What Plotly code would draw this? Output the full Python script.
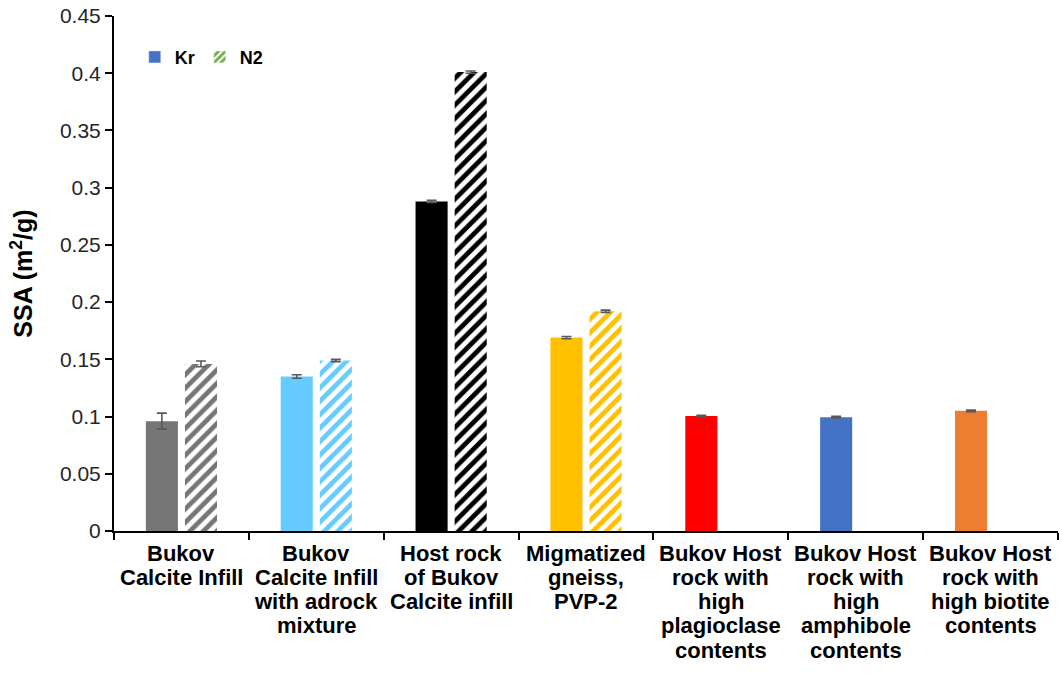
import plotly.graph_objects as go

categories = [
    "Bukov<br>Calcite Infill",
    "Bukov<br>Calcite Infill<br>with adrock<br>mixture",
    "Host rock<br>of Bukov<br>Calcite infill",
    "Migmatized<br>gneiss,<br>PVP-2",
    "Bukov Host<br>rock with<br>high<br>plagioclase<br>contents",
    "Bukov Host<br>rock with<br>high<br>amphibole<br>contents",
    "Bukov Host<br>rock with<br>high biotite<br>contents",
]
kr_values = [0.096, 0.135, 0.288, 0.169, 0.1005, 0.0995, 0.105]
kr_errors = [0.007, 0.0015, 0.001, 0.001, 0.0007, 0.0007, 0.0007]
n2_values = [0.146, 0.149, 0.401, 0.192, None, None, None]
n2_errors = [0.0025, 0.001, 0.001, 0.001, 0, 0, 0]
bar_colors = ["#767676", "#66CCFF", "#000000", "#FFC000", "#FF0000", "#4472C4", "#ED7D31"]
y_ticks = [0, 0.05, 0.1, 0.15, 0.2, 0.25, 0.3, 0.35, 0.4, 0.45]
y_ticklabels = ["0", "0.05", "0.1", "0.15", "0.2", "0.25", "0.3", "0.35", "0.4", "0.45"]

keys = list(range(len(categories)))
FONT = "Liberation Sans, Arial, sans-serif"
ERR = "#595959"

fig = go.Figure()
fig.add_trace(go.Bar(
    x=keys, y=kr_values, name="Kr", offsetgroup="kr", showlegend=False,
    marker=dict(color=bar_colors, line=dict(width=0)),
    error_y=dict(type="data", array=kr_errors, color=ERR, thickness=1.6, width=5),
))
fig.add_trace(go.Bar(
    x=keys, y=n2_values, name="N2", offsetgroup="n2", showlegend=False,
    marker=dict(color="white", line=dict(width=0),
                pattern=dict(shape="/", fgcolor=bar_colors, bgcolor="white", fgopacity=1,
                             size=9.5, solidity=0.5, fillmode="overlay")),
    error_y=dict(type="data", array=n2_errors, color=ERR, thickness=1.6, width=5),
))
# legend entries
fig.add_trace(go.Bar(x=[keys[0]], y=[None], name="Kr", offsetgroup="kr",
                     marker=dict(color="#4472C4")))
fig.add_trace(go.Bar(x=[keys[0]], y=[None], name="N2", offsetgroup="n2",
                     marker=dict(color="white",
                                 pattern=dict(shape="/", fgcolor="#70AD47", bgcolor="white",
                                              fgopacity=1, size=6, solidity=0.6,
                                              fillmode="overlay"))))

# category labels with tight line spacing
for k, lab in zip(keys, categories):
    for i, line in enumerate(lab.split("<br>")):
        fig.add_annotation(x=k, xref="x", y=0, yref="paper", text=line,
                           showarrow=False, yanchor="middle", xanchor="center",
                           yshift=-(22 + i * 24.3),
                           font=dict(family=FONT, size=22, color="#000000", weight="bold"))

fig.update_layout(
    width=1062, height=680,
    margin=dict(l=114, r=4, t=16, b=149),
    paper_bgcolor="white", plot_bgcolor="white",
    barmode="group", bargap=0.42, bargroupgap=0.18,
    font=dict(family=FONT, color="#000000"),
    legend=dict(orientation="h", x=0.022, y=0.92, xanchor="left", yanchor="middle",
                font=dict(family=FONT, size=18, color="#000000", weight="bold"),
                bgcolor="rgba(0,0,0,0)", itemwidth=30, tracegroupgap=0),
    showlegend=True,
)
fig.update_xaxes(
    type="linear", range=[-0.5, len(categories) - 0.5],
    tickvals=[k - 0.5 for k in keys] + [len(categories) - 0.5],
    showticklabels=False,
    ticks="outside", ticklen=7, tickwidth=2, tickcolor="#000000",
    showline=True, linecolor="#000000", linewidth=2, showgrid=False, zeroline=False,
)
fig.update_yaxes(
    range=[0, 0.45], tickvals=y_ticks, ticktext=y_ticklabels,
    ticks="outside", ticklen=7, tickwidth=1.5, tickcolor="#000000",
    showline=True, linecolor="#000000", linewidth=2, showgrid=False, zeroline=False,
    tickfont=dict(family=FONT, size=21, color="#262626"),
    title=dict(text="<b>SSA (m<sup>2</sup>/g)</b>", font=dict(family=FONT, size=25, color="#000000"),
               standoff=20),
)

fig.write_html("out.html")
